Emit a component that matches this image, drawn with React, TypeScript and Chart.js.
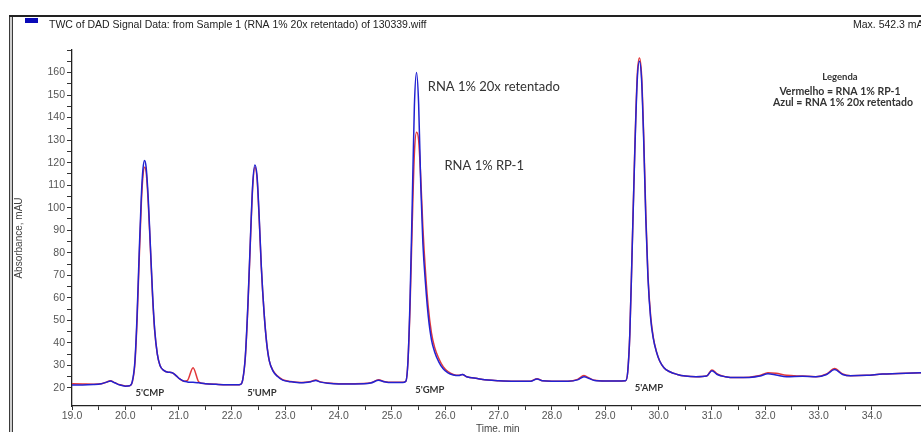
import React, { useEffect, useRef } from 'react';
import { Chart, registerables } from 'chart.js';

Chart.register(...registerables);

// ---- Data ----
const timeMin = [
  19.0, 19.2, 19.4, 19.55, 19.65, 19.72, 19.8, 19.9, 20.0, 20.08,
  20.13, 20.18, 20.22, 20.26, 20.3, 20.33, 20.36, 20.39, 20.43, 20.47,
  20.51, 20.55, 20.6, 20.65, 20.72, 20.8, 20.88, 20.95, 21.02, 21.1,
  21.16, 21.27, 21.38, 21.5, 21.7, 21.9, 22.1, 22.16, 22.2, 22.25,
  22.3, 22.35, 22.39, 22.43, 22.47, 22.51, 22.55, 22.6, 22.65, 22.7,
  22.77, 22.85, 22.95, 23.1, 23.3, 23.48, 23.57, 23.66, 23.8, 24.0,
  24.3, 24.6, 24.75, 24.85, 25.0, 25.2, 25.26, 25.3, 25.34, 25.38,
  25.42, 25.46, 25.5, 25.54, 25.58, 25.63, 25.68, 25.74, 25.8, 25.88,
  25.96, 26.05, 26.15, 26.25, 26.32, 26.4, 26.6, 26.8, 27.0, 27.3,
  27.6, 27.72, 27.82, 28.0, 28.3, 28.48, 28.6, 28.7, 28.8, 29.0,
  29.2, 29.38, 29.42, 29.46, 29.5, 29.55, 29.6, 29.64, 29.68, 29.72,
  29.76, 29.8, 29.85, 29.9, 29.96, 30.02, 30.1, 30.2, 30.35, 30.5,
  30.7, 30.9, 31.0, 31.1, 31.25, 31.45, 31.7, 31.9, 32.05, 32.2,
  32.4, 32.7, 32.95, 33.15, 33.3, 33.45, 33.6, 33.9, 34.2, 34.5,
  34.92,
];

// Azul = RNA 1% 20x retentado
const blueSignal = [
  21.3, 21.3, 21.5, 21.9, 22.6, 23.1, 22.3, 21.3, 20.8, 21.0,
  22.8, 32, 52, 80, 105, 117, 121, 118, 104, 83,
  62, 46, 35, 30, 27.8, 27, 26.8, 25.5, 24, 23,
  22.7, 22.5, 22.3, 21.9, 21.6, 21.4, 21.4, 21.6, 23.5, 34,
  58, 89, 111, 119, 114, 96, 74, 54, 40, 32,
  27.5, 25.2, 23.5, 22.8, 22.3, 22.8, 23.3, 22.6, 22.1, 21.8,
  21.8, 22.2, 23.4, 22.8, 22.4, 22.4, 23.0, 32, 60, 102,
  145, 160, 146, 110, 84, 66, 52, 41.5, 36, 31.5,
  28.5, 26.7, 25.8, 25.5, 26, 25, 24.2, 23.5, 23.2, 23.0,
  23.0, 24.0, 23.2, 23.0, 23.0, 23.6, 25.0, 24.2, 23.3, 23.1,
  23.1, 23.2, 27, 44, 78, 122, 157, 165, 157, 130,
  95, 69, 51, 42, 36, 32, 29, 27.3, 26, 25.3,
  25, 25.3, 27.7, 26, 25, 24.6, 24.7, 25.3, 26.3, 25.8,
  25, 25.2, 25, 26, 28.2, 26, 25.4, 25.6, 26.2, 26.4,
  26.8,
];

// Vermelho = RNA 1% RP-1
const redSignal = [
  21.9, 21.8, 21.7, 21.9, 22.6, 23.2, 22.4, 21.4, 20.9, 21.0,
  22.6, 31, 50, 77, 102, 114, 118, 116, 102, 82,
  61, 45.5, 35, 30, 27.8, 27, 26.8, 25.5, 24, 23,
  23.2, 29, 22.6, 21.9, 21.6, 21.4, 21.4, 21.6, 23.5, 33.5,
  57, 88, 110, 118, 113, 95, 73.5, 54, 40, 32,
  27.7, 25.4, 23.7, 22.9, 22.4, 22.9, 23.5, 22.7, 22.2, 21.9,
  21.9, 22.3, 23.6, 22.9, 22.5, 22.5, 23.0, 32, 57, 93,
  124, 133.5, 130, 113, 91, 71, 56, 44.5, 38, 33,
  29.5, 27.3, 26, 25.6, 26, 25, 24.2, 23.5, 23.2, 23.0,
  23.0, 24.1, 23.2, 23.0, 23.0, 23.8, 25.5, 24.4, 23.4, 23.1,
  23.1, 23.2, 27, 44, 78, 123, 159, 166.5, 159, 132,
  97, 70, 52, 42.5, 36, 32, 29, 27.3, 26, 25.3,
  25, 25.3, 28, 26.2, 25, 24.6, 24.8, 25.5, 26.8, 26.5,
  25.6, 25.3, 25, 26.2, 28.6, 26.2, 25.4, 25.6, 26.2, 26.4,
  26.8,
];

const peakNames = ["5'CMP", "5'UMP", "5'GMP", "5'AMP"];
const peakLabelTimes = [20.46, 22.56, 25.71, 29.82];
const peakLabelLevels = [17.8, 17.8, 19.1, 20.0];

const seriesNotes = ['RNA 1% 20x retentado', 'RNA 1% RP-1'];
const seriesNoteTimes = [26.91, 26.73];
const seriesNoteLevels = [153.8, 118.7];

const legendLines = ['Legenda', 'Vermelho = RNA 1% RP-1', 'Azul = RNA 1% 20x retentado'];

const TITLE = 'TWC of DAD Signal Data: from Sample 1 (RNA 1% 20x retentado) of 130339.wiff';
const MAX_TEXT = 'Max. 542.3 mAU';
const X_TITLE = 'Time, min';
const Y_TITLE = 'Absorbance, mAU';

const X_MIN = 19.0;
const X_MAX = 34.92;
const Y_MIN = 12;
const Y_MAX = 170;

const SANS = '"Liberation Sans", Arial, sans-serif';
const CAL = 'Lato, "Open Sans", sans-serif';

const overlayPlugin = {
  id: 'overlay',
  afterDraw(chart: any) {
    const ctx = chart.ctx as CanvasRenderingContext2D;
    const xs = chart.scales.x;
    const ys = chart.scales.y;
    const W = chart.width;
    const H = chart.height;
    ctx.save();

    // window frame
    ctx.fillStyle = '#cfcfcf';
    ctx.fillRect(9, 15, 4, H - 15);
    ctx.strokeStyle = '#3a3a3a';
    ctx.lineWidth = 1;
    ctx.beginPath();
    ctx.moveTo(9.5, 15); ctx.lineTo(9.5, H);
    ctx.moveTo(12.5, 15); ctx.lineTo(12.5, H);
    ctx.stroke();
    ctx.lineWidth = 2;
    ctx.strokeStyle = '#222';
    ctx.beginPath();
    ctx.moveTo(9, 16); ctx.lineTo(W, 16);
    ctx.stroke();

    // title bar
    ctx.fillStyle = '#0a0ab8';
    ctx.fillRect(25, 18, 13, 5);
    ctx.fillStyle = '#222';
    ctx.font = `10.5px ${SANS}`;
    ctx.textBaseline = 'middle';
    ctx.textAlign = 'left';
    ctx.fillText(TITLE, 49, 25);
    ctx.fillText(MAX_TEXT, 853, 25);

    // axis titles
    ctx.fillStyle = '#444';
    ctx.font = `10px ${SANS}`;
    ctx.save();
    ctx.translate(19, 238);
    ctx.rotate(-Math.PI / 2);
    ctx.textAlign = 'center';
    ctx.fillText(Y_TITLE, 0, 0);
    ctx.restore();
    ctx.textAlign = 'left';
    ctx.textBaseline = 'top';
    ctx.fillText(X_TITLE, 476, 424);

    // peak labels
    ctx.fillStyle = '#333';
    ctx.font = `bold 9.5px ${CAL}`;
    ctx.textAlign = 'center';
    ctx.textBaseline = 'middle';
    peakNames.forEach((n, i) => {
      ctx.fillText(n, xs.getPixelForValue(peakLabelTimes[i]), ys.getPixelForValue(peakLabelLevels[i]));
    });

    // series notes
    ctx.font = `13px ${CAL}`;
    seriesNotes.forEach((n, i) => {
      ctx.fillText(n, xs.getPixelForValue(seriesNoteTimes[i]), ys.getPixelForValue(seriesNoteLevels[i]));
    });

    // legend box text
    ctx.font = `bold 9.5px ${CAL}`;
    ctx.fillText(legendLines[0], 840, 77);
    ctx.font = `bold 10.5px ${CAL}`;
    ctx.fillText(legendLines[1], 840, 92);
    ctx.fillText(legendLines[2], 843, 103);

    ctx.restore();
  },
};

export default function App() {
  const ref = useRef<HTMLCanvasElement | null>(null);

  useEffect(() => {
    if (!ref.current) return;
    const blue = timeMin.map((t, i) => ({ x: t, y: blueSignal[i] }));
    const red = timeMin.map((t, i) => ({ x: t, y: redSignal[i] }));
    const chart = new Chart(ref.current, {
      type: 'line',
      data: {
        datasets: [
          {
            label: 'Azul = RNA 1% 20x retentado',
            data: blue,
            borderColor: '#2222d2',
            borderWidth: 1.5,
            pointRadius: 0,
            cubicInterpolationMode: 'monotone',
            fill: false,
          },
          {
            label: 'Vermelho = RNA 1% RP-1',
            data: red,
            borderColor: '#e2383a',
            borderWidth: 1.5,
            pointRadius: 0,
            cubicInterpolationMode: 'monotone',
            fill: false,
          },
        ],
      },
      options: {
        animation: false,
        responsive: false,
        devicePixelRatio: 1,
        layout: { padding: { top: 50, left: 0, right: 0, bottom: 0 } },
        plugins: { legend: { display: false }, tooltip: { enabled: false } },
        scales: {
          x: {
            type: 'linear',
            min: X_MIN,
            max: X_MAX,
            afterFit: (s: any) => { s.height = 26; },
            afterBuildTicks: (s: any) => {
              s.ticks = s.ticks.filter((t: any) => Math.abs(t.value * 2 - Math.round(t.value * 2)) < 1e-6);
            },
            grid: { drawOnChartArea: false, drawTicks: true, tickLength: 4, color: '#333' },
            border: { display: true, color: '#222', width: 1.3 },
            ticks: {
              stepSize: 0.5,
              autoSkip: false,
              maxRotation: 0,
              padding: 0,
              color: '#555',
              font: { family: SANS, size: 10.5 },
              callback: (v: any) => {
                const n = Number(v);
                return Math.abs(n - Math.round(n)) < 1e-6 ? Math.round(n).toFixed(1) : '';
              },
            },
          },
          y: {
            type: 'linear',
            min: Y_MIN,
            max: Y_MAX,
            afterFit: (s: any) => { s.width = 72; },
            afterBuildTicks: (s: any) => {
              s.ticks = s.ticks.filter((t: any) => Math.abs(t.value / 5 - Math.round(t.value / 5)) < 1e-6);
            },
            grid: { drawOnChartArea: false, drawTicks: true, tickLength: 5, color: '#333' },
            border: { display: true, color: '#222', width: 1.3 },
            ticks: {
              stepSize: 5,
              autoSkip: false,
              padding: 2,
              color: '#555',
              font: { family: SANS, size: 10.5 },
              callback: (v: any) => {
                const n = Math.round(Number(v));
                return n % 10 === 0 && n >= 20 && n <= 160 ? String(n) : '';
              },
            },
          },
        },
      },
      plugins: [overlayPlugin],
    } as any);
    return () => chart.destroy();
  }, []);

  return (
    <div style={{ position: 'fixed', left: 0, top: 0, width: 921, height: 432, background: '#fff', overflow: 'hidden' }}>
      <canvas ref={ref} width={921} height={432} style={{ display: 'block' }} />
    </div>
  );
}
